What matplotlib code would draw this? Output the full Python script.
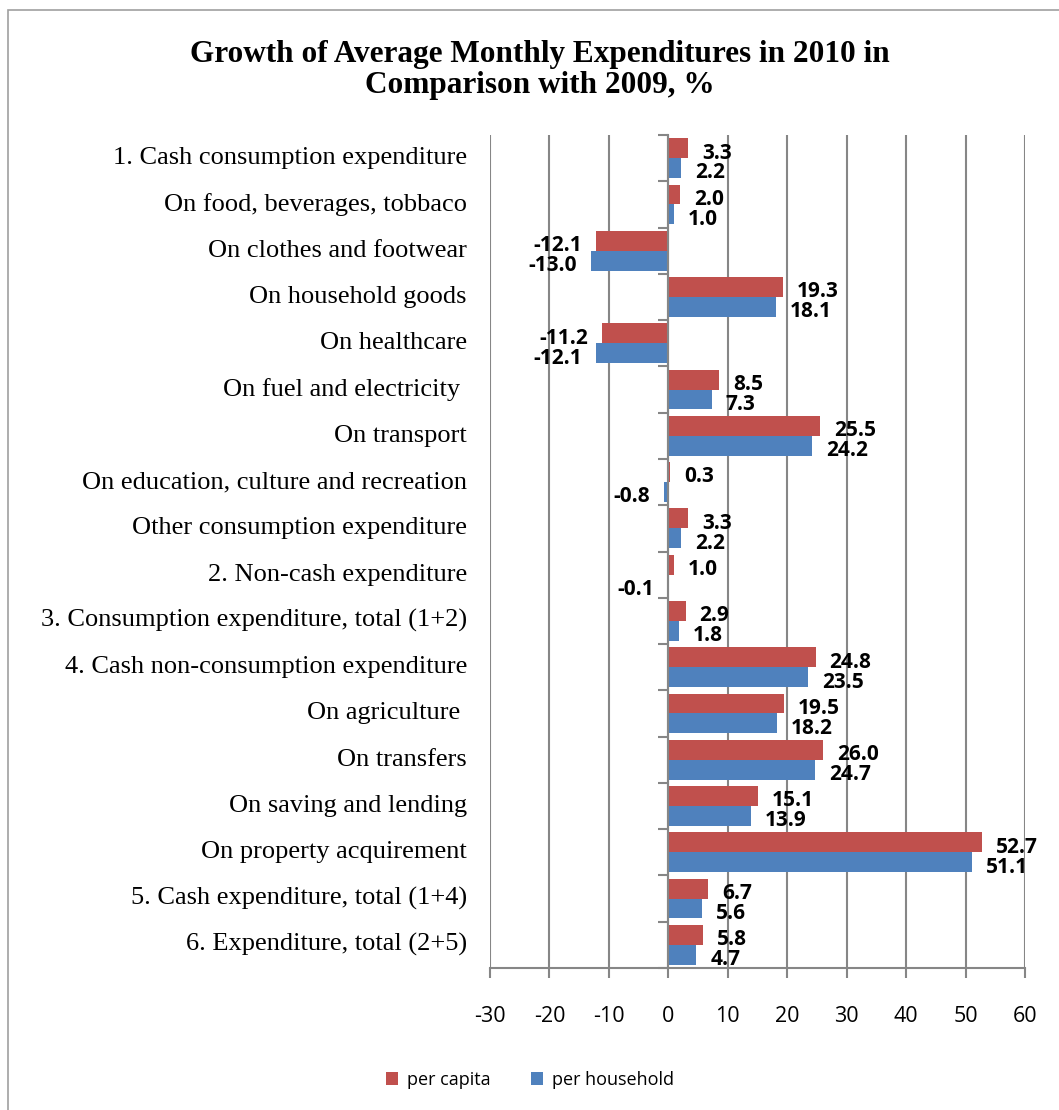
import matplotlib
matplotlib.use("Agg")
import matplotlib.pyplot as plt
import matplotlib.transforms as mtransforms
from matplotlib.patches import Rectangle
import numpy as np

categories = [
    "1. Cash consumption expenditure",
    "On food, beverages, tobbaco",
    "On clothes and footwear",
    "On household goods",
    "On healthcare",
    "On fuel and electricity ",
    "On transport",
    "On education, culture and recreation",
    "Other consumption expenditure",
    "2. Non-cash expenditure",
    "3. Consumption expenditure, total (1+2)",
    "4. Cash non-consumption expenditure",
    "On agriculture ",
    "On transfers",
    "On saving and lending",
    "On property acquirement",
    "5. Cash expenditure, total (1+4)",
    "6. Expenditure, total (2+5)",
]
per_capita = [3.3, 2.0, -12.1, 19.3, -11.2, 8.5, 25.5, 0.3, 3.3, 1.0, 2.9,
              24.8, 19.5, 26.0, 15.1, 52.7, 6.7, 5.8]
per_household = [2.2, 1.0, -13.0, 18.1, -12.1, 7.3, 24.2, -0.8, 2.2, -0.1, 1.8,
                 23.5, 18.2, 24.7, 13.9, 51.1, 5.6, 4.7]
series_names = ["per capita", "per household"]
x_ticks = [-30, -20, -10, 0, 10, 20, 30, 40, 50, 60]

RED = "#C0504D"
BLUE = "#4F81BD"
GRID = "#868686"

W, H = 1059, 1110
fig = plt.figure(figsize=(W / 100, H / 100), dpi=100)
fig.patch.set_facecolor("white")

# outer chart border
fig.patches.append(Rectangle((8 / W, -0.01), 1.05, 1 - 10 / H + 0.01,
                             transform=fig.transFigure, fill=False,
                             edgecolor="#A0A0A0", linewidth=1.2))

ax = fig.add_axes([490 / W, 1 - 968 / H, 535 / W, (968 - 135) / H])

n = len(categories)
y = np.arange(n)
bh = 0.43
ax.barh(y - bh / 2, per_capita, height=bh, color=RED, label=series_names[0], zorder=3)
ax.barh(y + bh / 2, per_household, height=bh, color=BLUE, label=series_names[1], zorder=3)

ax.set_xlim(-30, 60)
ax.set_ylim(n - 0.5, -0.5)
ax.set_xticks(x_ticks)
ax.set_xticklabels([str(t) for t in x_ticks], fontfamily="Open Sans", fontsize=15.5)
ax.tick_params(axis="x", direction="out", length=7, color=GRID, width=1.5, pad=20)
ax.xaxis.grid(True, color=GRID, linewidth=1.5, zorder=0)

ax.set_yticks(np.arange(n + 1) - 0.5)
ax.set_yticklabels([])
ax.tick_params(axis="y", direction="out", length=7, color=GRID, width=1.5)

for s in ["top", "right"]:
    ax.spines[s].set_visible(False)
ax.spines["left"].set_position(("data", 0))
ax.spines["left"].set_color(GRID)
ax.spines["left"].set_linewidth(1.5)
ax.spines["left"].set_zorder(4)
ax.spines["bottom"].set_color(GRID)
ax.spines["bottom"].set_linewidth(1.5)

trans = mtransforms.blended_transform_factory(ax.transAxes, ax.transData)
for i, c in enumerate(categories):
    ax.text(-0.043, i, c, transform=trans, ha="right", va="center",
            fontfamily="Liberation Serif", fontsize=19)

for vals, off in ((per_capita, -bh / 2), (per_household, bh / 2)):
    for i, v in enumerate(vals):
        ha = "left" if v >= 0 else "right"
        dx = 10 if v >= 0 else -10
        ax.annotate(f"{v:.1f}", (v, i + off), xytext=(dx, -3.5),
                    textcoords="offset points", ha=ha, va="center",
                    fontfamily="Open Sans", fontweight="bold", fontsize=15,
                    zorder=5)

fig.text(540 / W, 1 - 70 / H,
         "Growth of Average Monthly Expenditures in 2010 in\nComparison with 2009, %",
         ha="center", va="center", fontfamily="Liberation Serif",
         fontweight="bold", fontsize=22.5, linespacing=1.12)

handles, labels = ax.get_legend_handles_labels()
fig.legend(handles, labels, loc="center", bbox_to_anchor=(530 / W, 1 - 1080 / H),
           ncol=2, frameon=False, prop={"family": "Open Sans", "size": 13},
           handlelength=0.7, handleheight=0.7, columnspacing=2.2, handletextpad=0.5)

fig.savefig("out.png", dpi=100)
